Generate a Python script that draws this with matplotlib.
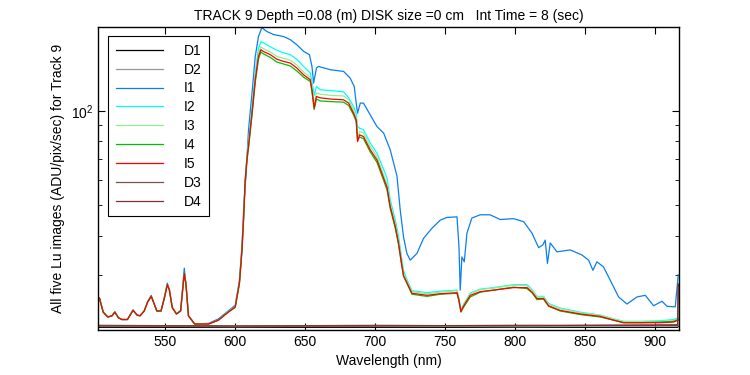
import matplotlib
matplotlib.use("Agg")
import matplotlib.pyplot as plt
from matplotlib.ticker import LogLocator, NullFormatter, MultipleLocator

plt.rcParams["font.family"] = ["Liberation Sans", "DejaVu Sans"]
plt.rcParams["mathtext.default"] = "regular"

# ---- data ----
wl = [503, 505.7, 509, 512, 514, 516.5, 519, 523, 527, 530,
      532, 535, 537.5, 540, 542, 544, 547, 549.5, 551.5, 553,
      555, 558, 561, 562.5, 563.6, 564.8, 566.6, 571, 581, 588,
      595, 600, 603, 604.8, 606, 607, 608.3, 609.5, 612, 614.3,
      616.6, 618.3, 620, 625, 629.8, 634.5, 639.3, 644, 648.8, 653.6,
      654.8, 656.4, 658, 660.7, 667.9, 677.4, 681, 684.5, 686.4, 687.4,
      688.8, 691.6, 696.4, 701.2, 706, 708.4, 710.7, 714.3, 716.6, 718.4,
      720.2, 722.6, 726.2, 737, 746.4, 758.4, 759.8, 761.2, 763, 767.9,
      775, 784.5, 798.8, 808.4, 812, 815.5, 820.2, 823.8, 832, 846.4,
      860.7, 870.2, 877.4, 889, 903.6, 913, 916.4]

left_peaks = [25.3, 22.8, 22.0, 22.2, 22.8, 21.9, 21.6, 21.6, 23.1, 22.3,
              22.2, 23.0, 24.6, 25.6, 24.3, 23.0, 23.0, 25.4, 27.9, 26.8,
              23.6, 22.5, 23.0, 27.0, 30.3, 28.0, 22.2, 20.9, 20.9, 21.5]

i5 = left_peaks + [
    22.8, 23.7, 28.3, 36.0, 45.9, 58.9, 69.8, 77.4, 98.5, 125.6,
    149, 156.6, 154.7, 151, 146, 143.7, 142, 136.9, 130.3, 125.6,
    116.7, 102, 111, 110, 109, 108.4, 105.8, 98.3, 93.6, 79.8,
    83.8, 82.8, 75.1, 69.8, 61, 57, 49.5, 42.8, 37.9, 33.5,
    29.8, 28.3, 26.2, 25.8, 26.1, 26.3, 24.9, 22.9, 23.8, 25.8,
    26.5, 26.8, 27.3, 27.3, 26.4, 25.2, 25.2, 23.9, 23.1, 22.5,
    22.1, 21.5, 21.1, 21.1, 21.1, 21.2, 21.5]

i2 = left_peaks + [
    22.9, 23.8, 28.5, 36.5, 46.5, 60, 71, 80, 103, 132,
    158, 166, 165, 160, 156, 153, 151, 146, 138.5, 132,
    124, 112, 119.6, 116.7, 116, 115, 110, 103.2, 98, 89,
    88, 87, 79, 73.3, 65, 61, 52, 45, 40, 35,
    31, 29, 26.7, 26.3, 26.6, 26.8, 25.2, 23.2, 24.1, 26.2,
    27.0, 27.3, 27.9, 27.9, 26.9, 25.6, 25.6, 24.3, 23.5, 22.8,
    22.3, 21.7, 21.3, 21.3, 21.4, 21.6, 21.9]

i3 = left_peaks + [
    22.8, 23.7, 28.3, 36.2, 46, 59, 70, 78, 100, 128,
    152, 160, 158, 154, 149, 147, 145, 140, 133, 128,
    120, 105, 114, 113, 112, 111.5, 108.5, 100.5, 95.5, 82,
    86, 85, 77, 71.5, 62.5, 58, 50.5, 43.5, 38.5, 34,
    30.2, 28.7, 26.5, 26.1, 26.4, 26.7, 25.1, 23.1, 24.0, 26.1,
    26.9, 27.2, 27.8, 27.7, 26.8, 25.5, 25.5, 24.2, 23.4, 22.7,
    22.3, 21.7, 21.3, 21.3, 21.3, 21.4, 21.8]

i4 = left_peaks + [
    22.8, 23.6, 28.0, 35.5, 45, 58, 68.5, 76, 97, 123,
    146, 154, 152, 148, 143, 141, 139, 134, 128, 124,
    115, 101, 109, 107.5, 107, 106.5, 104, 97, 92.5, 80.5,
    82.5, 81.5, 74, 68.5, 60, 56, 48.8, 42.2, 37.5, 33.2,
    29.7, 28.2, 26.0, 25.6, 26.0, 26.2, 24.7, 22.8, 23.6, 25.5,
    26.4, 26.8, 27.4, 27.1, 26.3, 25.0, 25.1, 23.8, 23.0, 22.4,
    22.0, 21.5, 21.1, 21.1, 21.2, 21.3, 21.6]

wl_i1 = [503, 505.7, 509, 512, 514, 516.5, 519, 523, 527, 530,
         532, 535, 537.5, 540, 542, 544, 547, 549.5, 551.5, 553,
         555, 558, 561, 562.5, 563.6, 564.8, 566.6, 571, 581, 588,
         595, 600, 603, 604.8, 606, 607.9, 609.5, 612, 614.3, 616.6,
         619, 622.6, 627.4, 634.5, 639.3, 644, 648.8, 653, 654.8, 656,
         658, 659.5, 667.9, 677.4, 682, 685, 686.4, 687.4, 689.3, 691.6,
         696.4, 701.2, 706, 710.7, 715.5, 717.9, 720.2, 722.6, 725, 729.8,
         734.5, 740.5, 746.4, 751.2, 758.4, 759.8, 760.7, 761.9, 763.6, 765.5,
         769, 775, 782, 789.3, 798.8, 806, 812, 816.7, 819.8, 821.4,
         823, 825, 829.8, 839.3, 847.6, 852.4, 855.5, 858.3, 863, 867.9,
         873.8, 879.8, 887, 892.9, 898.8, 904.8, 908.4, 914.3, 916.4]
i1 = [25.3, 22.8, 22.0, 22.2, 22.9, 21.9, 21.6, 21.6, 23.2, 22.3,
      22.2, 23.0, 24.7, 25.8, 24.3, 23.0, 23.0, 25.6, 28.2, 26.8,
      23.6, 22.5, 23.1, 27.5, 31.5, 28.0, 22.2, 20.9, 21.0, 21.7,
      23.0, 24.0, 28.8, 37, 48, 64.8, 87, 114, 149, 172.5,
      184, 179, 175, 172.5, 168.6, 162.4, 154.7, 151, 138.5, 122.6,
      136.9, 138.5, 135.2, 133.5, 127.3, 119.6, 105.8, 98.3, 105.8, 105.8,
      97.1, 89.1, 84.9, 75.1, 62, 48, 39.6, 35.1, 33.4, 35.1,
      39.2, 42.2, 44.8, 45.7, 45.9, 36.9, 26.8, 34.2, 33.0, 40.7,
      45.5, 46.6, 46.6, 45.0, 45.3, 44.3, 40.7, 36.6, 37.4, 38.7,
      32.6, 37.9, 35.5, 36.0, 34.7, 33.4, 31.0, 33.0, 31.8, 28.8,
      25.5, 24.2, 25.5, 25.8, 23.9, 24.7, 23.8, 23.7, 30.0]

wl_dark = [503, 600, 700, 800, 916, 916.4]
d1 = [20.4, 20.4, 20.4, 20.4, 20.4, 20.5]
d2 = [20.6, 20.5, 20.6, 20.5, 20.6, 20.7]
d3 = [20.7, 20.6, 20.7, 20.6, 20.8, 28.0]
d4 = [20.6, 20.6, 20.6, 20.7, 20.7, 28.0]

series = [
    ("D1", wl_dark, d1, "black"),
    ("D2", wl_dark, d2, "#999999"),
    ("I1", wl_i1, i1, "#0A7EF2"),
    ("I2", wl, i2, "#00FFFF"),
    ("I3", wl, i3, "#90F090"),
    ("I4", wl, i4, "#00C000"),
    ("I5", wl, i5, "#FF0000"),
    ("D3", wl_dark, d3, "#7F5050"),
    ("D4", wl_dark, d4, "#803030"),
]

fig = plt.figure(figsize=(7.5, 3.75), dpi=100)
ax = fig.add_axes([0.1307, 0.12, 0.7747, 0.808])
for name, x, y, c in series:
    ax.plot(x, y, color=c, lw=0.9, label=name)

ax.set_yscale("log")
ax.set_xlim(502, 917)
ax.set_ylim(20, 185)
ax.xaxis.set_major_locator(MultipleLocator(50))
ax.yaxis.set_major_locator(LogLocator(base=10))
ax.yaxis.set_minor_locator(LogLocator(base=10, subs=range(2, 10)))
ax.yaxis.set_minor_formatter(NullFormatter())
ax.tick_params(which="both", direction="in", top=True, right=True,
               labelsize=10, color="black")
ax.tick_params(which="major", length=5)
ax.tick_params(which="minor", length=3)
for s in ax.spines.values():
    s.set_linewidth(1.0)

ax.set_title("TRACK 9 Depth =0.08 (m) DISK size =0 cm   Int Time = 8 (sec)",
             fontsize=10, pad=5)
ax.set_xlabel("Wavelength (nm)", fontsize=10)
ax.set_ylabel("All five Lu images (ADU/pix/sec) for Track 9", fontsize=10)

leg = ax.legend(loc="upper left", bbox_to_anchor=(0.017, 0.970),
                borderaxespad=0, fontsize=10, fancybox=False,
                edgecolor="black", framealpha=1, labelspacing=0.35,
                handlelength=3.4, handletextpad=1.5, borderpad=0.55)
leg.get_frame().set_linewidth(0.8)

fig.savefig("out.png", dpi=100)
